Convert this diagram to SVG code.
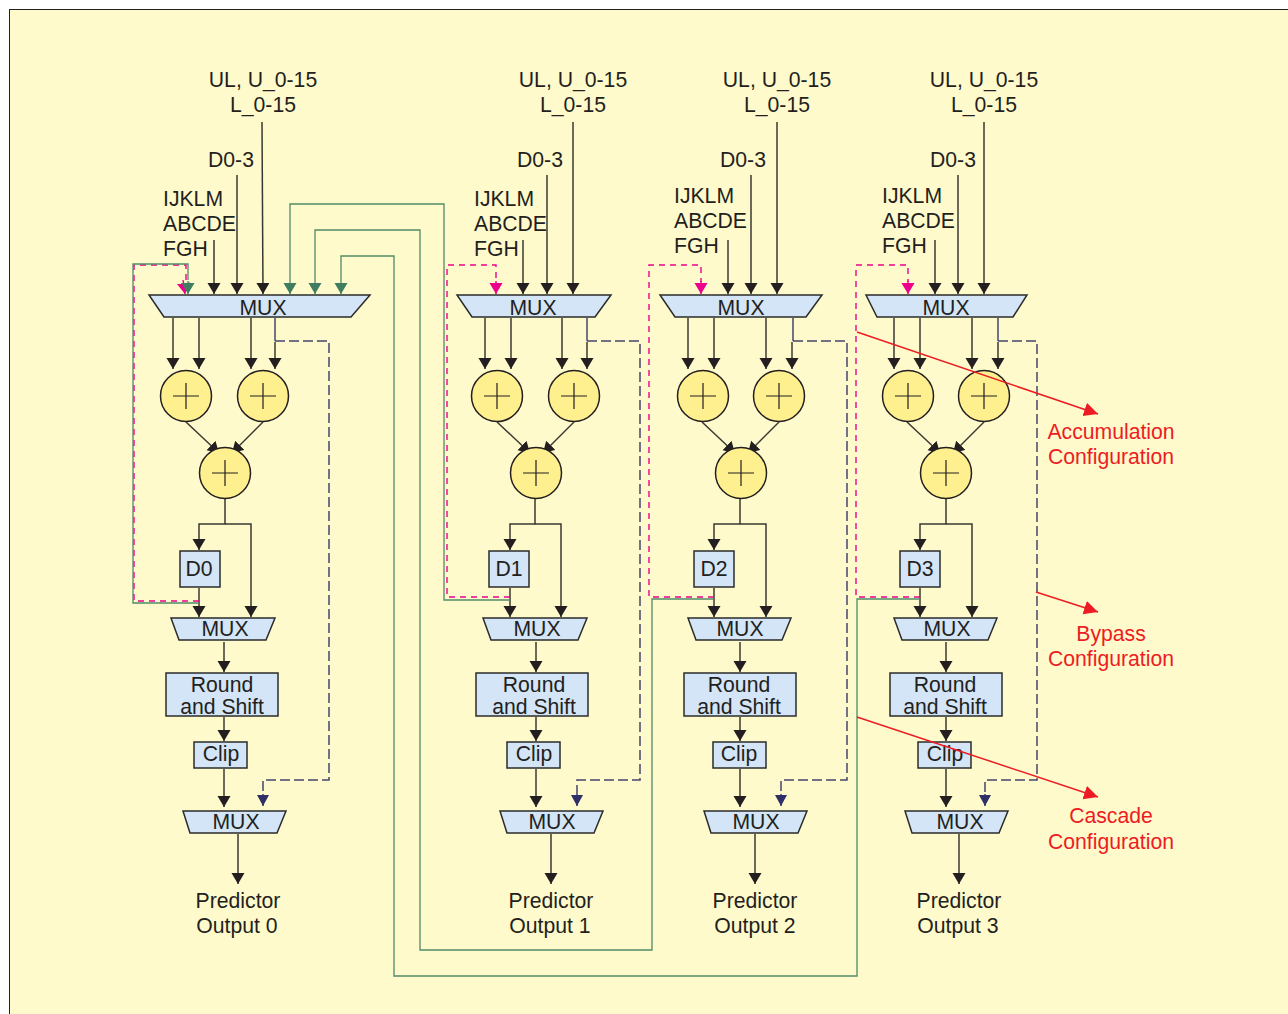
<svg xmlns="http://www.w3.org/2000/svg" width="1288" height="1014" viewBox="0 0 1288 1014">
<style>
text{font-family:"Liberation Sans",Arial,sans-serif;font-size:21.2px;fill:#231f20;text-anchor:middle}
.l{text-anchor:start}
.r{fill:#ed1c24}
.b{fill:#d3e5f6;stroke:#2b2b2b;stroke-width:1.5}
.c{fill:#fff08f;stroke:#231f20;stroke-width:1.5}
.p{fill:none;stroke:#231f20;stroke-width:1.2}
.k{fill:none;stroke:#3a3832;stroke-width:1.5;marker-end:url(#ak)}
.g{fill:none;stroke:#4f8a68;stroke-width:1.3}
.ga{marker-end:url(#ag)}
.m{fill:none;stroke:#ec008c;stroke-width:1.4;stroke-dasharray:6 5}
.ma{marker-end:url(#am)}
.n{fill:none;stroke:#45456f;stroke-width:1.5;stroke-dasharray:10 4}
.s{fill:none;stroke:#45456f;stroke-width:1.5}
.na{marker-end:url(#an)}
.ra{fill:none;stroke:#ed1c24;stroke-width:1.5;marker-end:url(#ar)}
</style>
<defs>
<marker id="ak" markerUnits="userSpaceOnUse" markerWidth="14" markerHeight="14" refX="11" refY="6.500" orient="auto"><path d="M0 0L11 6.500L0 13z" fill="#231f20"/></marker>
<marker id="ag" markerUnits="userSpaceOnUse" markerWidth="14" markerHeight="14" refX="11" refY="6.500" orient="auto"><path d="M0 0L11 6.500L0 13z" fill="#3f7c60"/></marker>
<marker id="am" markerUnits="userSpaceOnUse" markerWidth="14" markerHeight="14" refX="11" refY="6.500" orient="auto"><path d="M0 0L11 6.500L0 13z" fill="#ec008c"/></marker>
<marker id="an" markerUnits="userSpaceOnUse" markerWidth="14" markerHeight="14" refX="11" refY="6" orient="auto"><path d="M0 0L11 6L0 12z" fill="#2e3068"/></marker>
<marker id="ar" markerUnits="userSpaceOnUse" markerWidth="18" markerHeight="18" refX="14" refY="7" orient="auto"><path d="M0 0L14 7L0 14z" fill="#ed1c24"/></marker>
</defs>
<rect width="1288" height="1014" fill="#fff"/>
<rect x="9.500" y="9.500" width="1290" height="1020" fill="#fffacb" stroke="#231f20" stroke-width="1"/>

<g id="connectors">
<!-- column 0 -->
<path class="k" d="M214 240V294"/><path class="k" d="M237 175V294"/><path class="k" d="M262 122L263 294"/>
<path class="k" d="M173 318V369"/><path class="k" d="M199 318V369"/><path class="k" d="M251 318V369"/><path class="k" d="M275 342V369"/>
<path class="k" d="M186 422L219 453"/><path class="k" d="M263 422L232 453"/>
<path class="k" d="M225 499V524H199V550"/><path class="k" d="M225 524H251V617"/>
<path class="k" d="M199 588V617"/><path class="k" d="M224 642V672"/><path class="k" d="M224 717V741"/><path class="k" d="M224 769V807"/><path class="k" d="M238 834V884"/>
<path class="s" d="M275 318V341"/><path class="n" d="M275 341H329V780H263V794"/><path class="s na" d="M263 794V806"/>
<path class="m" d="M199 601H134V265H186V282"/><path class="m ma" d="M183 280L185 294"/>
<path class="g" d="M199 603H133V264H188V280"/><path class="g ga" d="M188 281V294"/>
<!-- column 1 -->
<path class="k" d="M523 240V294"/><path class="k" d="M547 175V294"/><path class="k" d="M573 122V294"/>
<path class="k" d="M485 318V369"/><path class="k" d="M511 318V369"/><path class="k" d="M562 318V369"/><path class="k" d="M587 342V369"/>
<path class="k" d="M497 422L530 453"/><path class="k" d="M574 422L543 453"/>
<path class="k" d="M535 499V524H510V550"/><path class="k" d="M535 524H561V617"/>
<path class="k" d="M510 588V617"/><path class="k" d="M536 642V672"/><path class="k" d="M536 717V741"/><path class="k" d="M536 769V807"/><path class="k" d="M551 834V884"/>
<path class="s" d="M587 318V341"/><path class="n" d="M587 341H640V780H577V794"/><path class="s na" d="M577 794V806"/>
<path class="m" d="M510 597H447V265H496V282"/><path class="m ma" d="M496 281V294"/>
<!-- column 2 -->
<path class="k" d="M728 240V294"/><path class="k" d="M751 175V294"/><path class="k" d="M777 122V294"/>
<path class="k" d="M688 318V369"/><path class="k" d="M714 318V369"/><path class="k" d="M766 318V369"/><path class="k" d="M792 342V369"/>
<path class="k" d="M702 422L735 453"/><path class="k" d="M779 422L748 453"/>
<path class="k" d="M740 499V524H714V550"/><path class="k" d="M740 524H766V617"/>
<path class="k" d="M714 588V617"/><path class="k" d="M740 642V672"/><path class="k" d="M740 717V741"/><path class="k" d="M740 769V807"/><path class="k" d="M755 834V884"/>
<path class="s" d="M793 318V341"/><path class="n" d="M793 341H847V780H781V794"/><path class="s na" d="M781 794V806"/>
<path class="m" d="M714 597H649V265H701V282"/><path class="m ma" d="M701 281V294"/>
<!-- column 3 -->
<path class="k" d="M935 240V294"/><path class="k" d="M958 175V294"/><path class="k" d="M984 122V294"/>
<path class="k" d="M894 318V369"/><path class="k" d="M920 318V369"/><path class="k" d="M972 318V369"/><path class="k" d="M998 342V369"/>
<path class="k" d="M907 422L940 453"/><path class="k" d="M984 422L953 453"/>
<path class="k" d="M946 499V524H920V550"/><path class="k" d="M946 524H972V617"/>
<path class="k" d="M920 588V617"/><path class="k" d="M946 642V672"/><path class="k" d="M946 717V741"/><path class="k" d="M946 769V807"/><path class="k" d="M959 834V884"/>
<path class="s" d="M998 318V341"/><path class="n" d="M998 341H1037V780H985V794"/><path class="s na" d="M985 794V806"/>
<path class="m" d="M920 597H856V265H908V282"/><path class="m ma" d="M908 281V294"/>
<!-- cascade lines -->
<path class="g ga" d="M510 600H444V204H290V294"/>
<path class="g ga" d="M714 599H652V950H420V230H315V294"/>
<path class="g ga" d="M920 599H857V976H394V256H341V294"/>
</g>

<g id="col0">
<g id="mux0a"><path class="b" d="M149 295H370L351 317H164z"/><text x="263" y="314.500">MUX</text></g>
<g id="add0a"><circle class="c" cx="186" cy="396" r="25.500"/><path class="p" d="M173 396H199M186 383V409"/></g>
<g id="add0b"><circle class="c" cx="263" cy="396" r="25.500"/><path class="p" d="M250 396H276M263 383V409"/></g>
<g id="add0c"><circle class="c" cx="225" cy="473" r="25.500"/><path class="p" d="M212 473H238M225 460V486"/></g>
<g id="d0"><rect class="b" x="180" y="551" width="40" height="36"/><text x="199" y="575.500">D0</text></g>
<g id="mux0b"><path class="b" d="M171 618H275L266 640H179z"/><text x="225" y="636">MUX</text></g>
<g id="round0"><rect class="b" x="166" y="673" width="112" height="43"/><text x="222" y="692">Round</text><text x="222" y="714">and Shift</text></g>
<g id="clip0"><rect class="b" x="194" y="742" width="53" height="26"/><text x="221" y="761">Clip</text></g>
<g id="mux0c"><path class="b" d="M183 811H286L277 833H190z"/><text x="236" y="829">MUX</text></g>
<g id="out0"><text x="238" y="908">Predictor</text><text x="237" y="933">Output 0</text></g>
<g id="in0"><text x="263" y="87">UL, U_0-15</text><text x="263" y="112">L_0-15</text><text x="231" y="167">D0-3</text><text class="l" x="163" y="206">IJKLM</text><text class="l" x="163" y="231">ABCDE</text><text class="l" x="163" y="256">FGH</text></g>
</g>

<g id="col1">
<g id="mux1a"><path class="b" d="M457 295H611L595 317H472z"/><text x="533" y="314.500">MUX</text></g>
<g id="add1a"><circle class="c" cx="497" cy="396" r="25.500"/><path class="p" d="M484 396H510M497 383V409"/></g>
<g id="add1b"><circle class="c" cx="574" cy="396" r="25.500"/><path class="p" d="M561 396H587M574 383V409"/></g>
<g id="add1c"><circle class="c" cx="536" cy="473" r="25.500"/><path class="p" d="M523 473H549M536 460V486"/></g>
<g id="d1"><rect class="b" x="489" y="551" width="40" height="36"/><text x="509" y="575.500">D1</text></g>
<g id="mux1b"><path class="b" d="M483 618H587L578 640H491z"/><text x="537" y="636">MUX</text></g>
<g id="round1"><rect class="b" x="476" y="673" width="112" height="43"/><text x="534" y="692">Round</text><text x="534" y="714">and Shift</text></g>
<g id="clip1"><rect class="b" x="507" y="742" width="53" height="26"/><text x="534" y="761">Clip</text></g>
<g id="mux1c"><path class="b" d="M500 811H603L594 833H507z"/><text x="552" y="829">MUX</text></g>
<g id="out1"><text x="551" y="908">Predictor</text><text x="550" y="933">Output 1</text></g>
<g id="in1"><text x="573" y="87">UL, U_0-15</text><text x="573" y="112">L_0-15</text><text x="540" y="167">D0-3</text><text class="l" x="474" y="206">IJKLM</text><text class="l" x="474" y="231">ABCDE</text><text class="l" x="474" y="256">FGH</text></g>
</g>

<g id="col2">
<g id="mux2a"><path class="b" d="M660 295H822L806 317H675z"/><text x="741" y="314.500">MUX</text></g>
<g id="add2a"><circle class="c" cx="703" cy="396" r="25.500"/><path class="p" d="M690 396H716M703 383V409"/></g>
<g id="add2b"><circle class="c" cx="779" cy="396" r="25.500"/><path class="p" d="M766 396H792M779 383V409"/></g>
<g id="add2c"><circle class="c" cx="741" cy="473" r="25.500"/><path class="p" d="M728 473H754M741 460V486"/></g>
<g id="d2"><rect class="b" x="694" y="551" width="40" height="36"/><text x="714" y="575.500">D2</text></g>
<g id="mux2b"><path class="b" d="M688 618H791L782 640H696z"/><text x="740" y="636">MUX</text></g>
<g id="round2"><rect class="b" x="684" y="673" width="112" height="43"/><text x="739" y="692">Round</text><text x="739" y="714">and Shift</text></g>
<g id="clip2"><rect class="b" x="713" y="742" width="53" height="26"/><text x="739" y="761">Clip</text></g>
<g id="mux2c"><path class="b" d="M704 811H807L798 833H711z"/><text x="756" y="829">MUX</text></g>
<g id="out2"><text x="755" y="908">Predictor</text><text x="755" y="933">Output 2</text></g>
<g id="in2"><text x="777" y="87">UL, U_0-15</text><text x="777" y="112">L_0-15</text><text x="743" y="167">D0-3</text><text class="l" x="674" y="203">IJKLM</text><text class="l" x="674" y="228">ABCDE</text><text class="l" x="674" y="253">FGH</text></g>
</g>

<g id="col3">
<g id="mux3a"><path class="b" d="M866 295H1027L1013 317H877z"/><text x="946" y="314.500">MUX</text></g>
<g id="add3a"><circle class="c" cx="908" cy="396" r="25.500"/><path class="p" d="M895 396H921M908 383V409"/></g>
<g id="add3b"><circle class="c" cx="984" cy="396" r="25.500"/><path class="p" d="M971 396H997M984 383V409"/></g>
<g id="add3c"><circle class="c" cx="946" cy="473" r="25.500"/><path class="p" d="M933 473H959M946 460V486"/></g>
<g id="d3"><rect class="b" x="900" y="551" width="40" height="36"/><text x="920" y="575.500">D3</text></g>
<g id="mux3b"><path class="b" d="M894 618H997L988 640H902z"/><text x="947" y="636">MUX</text></g>
<g id="round3"><rect class="b" x="890" y="673" width="112" height="43"/><text x="945" y="692">Round</text><text x="945" y="714">and Shift</text></g>
<g id="clip3"><rect class="b" x="918" y="742" width="53" height="26"/><text x="945" y="761">Clip</text></g>
<g id="mux3c"><path class="b" d="M905 811H1008L999 833H912z"/><text x="960" y="829">MUX</text></g>
<g id="out3"><text x="959" y="908">Predictor</text><text x="958" y="933">Output 3</text></g>
<g id="in3"><text x="984" y="87">UL, U_0-15</text><text x="984" y="112">L_0-15</text><text x="953" y="167">D0-3</text><text class="l" x="882" y="203">IJKLM</text><text class="l" x="882" y="228">ABCDE</text><text class="l" x="882" y="253">FGH</text></g>
</g>

<g id="config-labels">
<path class="ra" d="M857 332L1098 414"/><path class="ra" d="M1036 592L1098 612"/><path class="ra" d="M857 717L1098 797"/>
<text class="r" x="1111" y="439">Accumulation</text><text class="r" x="1111" y="464">Configuration</text>
<text class="r" x="1111" y="641">Bypass</text><text class="r" x="1111" y="666">Configuration</text>
<text class="r" x="1111" y="823">Cascade</text><text class="r" x="1111" y="849">Configuration</text>
</g>
</svg>
